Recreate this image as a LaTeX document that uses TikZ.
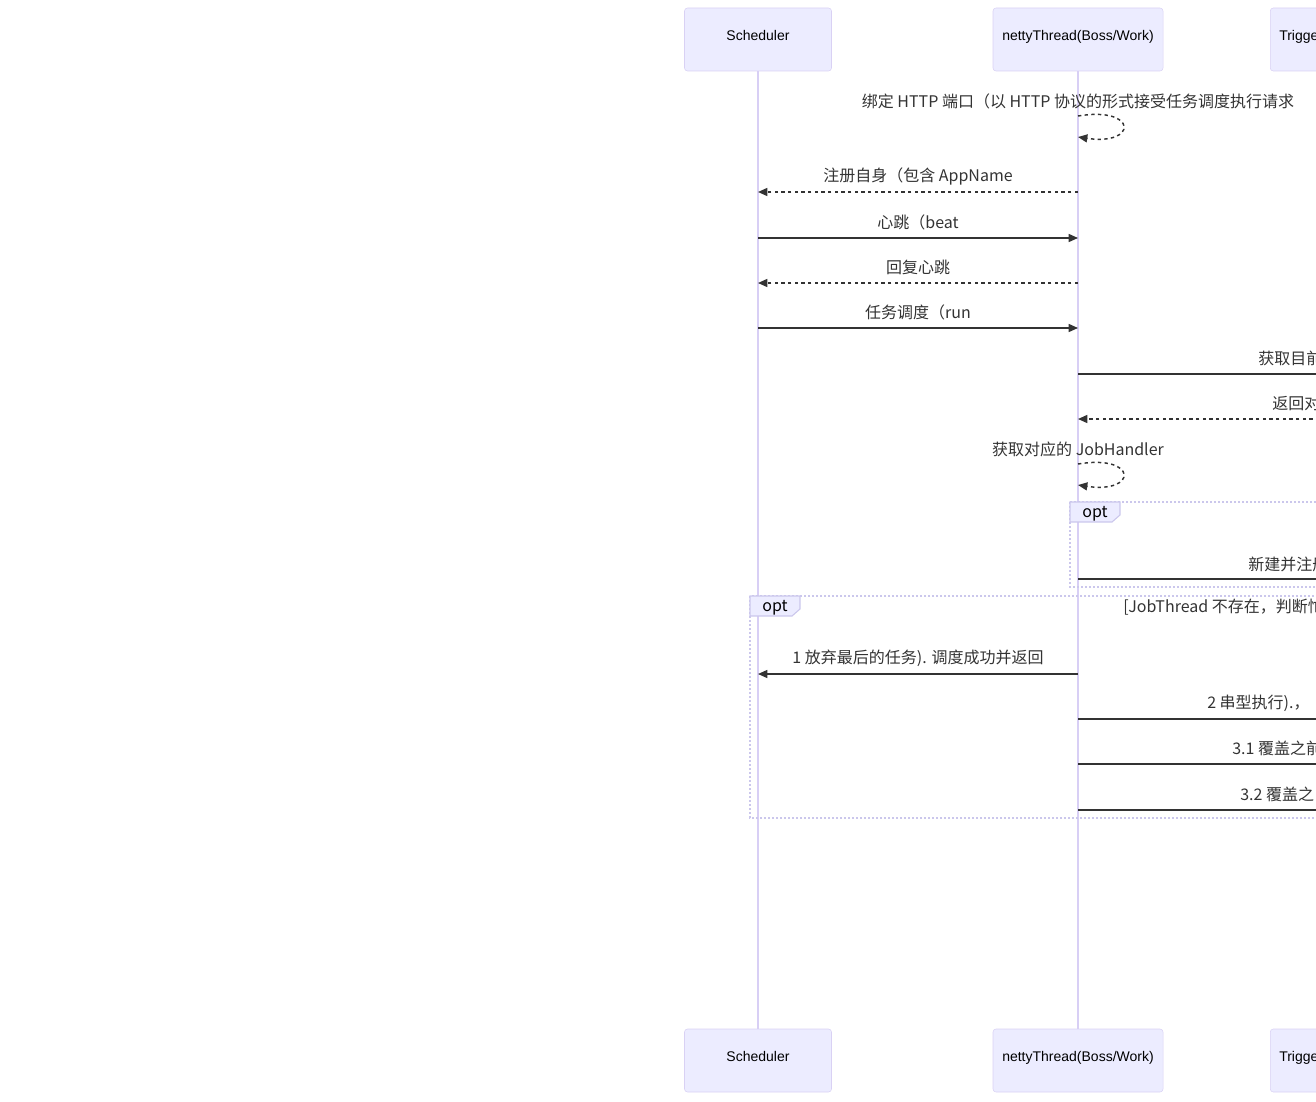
\documentclass[tikz,border=0pt]{standalone}
\usepackage{fontspec}
\setmainfont{Liberation Sans}
\newfontfamily\cjk{Noto Sans CJK SC}
\usetikzlibrary{arrows.meta}
\usetikzlibrary{calc}

\definecolor{actorfill}{HTML}{ECECFF}
\definecolor{actorline}{HTML}{D9D1F4}
\definecolor{lifeline}{HTML}{D8CFF5}
\definecolor{msgline}{HTML}{333333}
\definecolor{optline}{HTML}{CBC7EC}

\tikzset{
  actor/.style={draw=actorline, fill=actorfill, rounded corners=2.25pt, minimum height=47.25pt, inner sep=0pt, text depth=6pt, font=\fontsize{10.5}{12}\selectfont},
  life/.style={draw=lifeline, line width=1.5pt},
  msg/.style={draw=msgline, line width=1.1pt, -{Triangle[length=7pt,width=6pt]}},
  reply/.style={msg, dash pattern=on 2.5pt off 2.5pt},
  msgtext/.style={text=msgline, font=\cjk\fontsize{12}{14}\selectfont, inner sep=0pt},
  optbox/.style={draw=optline, line width=0.8pt, dash pattern=on 1.5pt off 1.5pt},
  opttab/.style={draw=optline, fill=actorfill, line width=0.8pt}
}

\begin{document}
\begin{tikzpicture}[x=0.75pt, y=-0.75pt]
      \useasboundingbox (0,0) rectangle (1316,1102);
      \clip (0,0) rectangle (1316,1102);

      % actors
      \node[actor, minimum width=110.25pt] (sched) at (758, 39.5) {Scheduler};
      \node[actor, minimum width=127.5pt] (netty) at (1078, 39.5) {nettyThread(Boss/Work)};
      \node[actor, anchor=west, text width=120pt, align=left, inner xsep=6.75pt] (trig) at (1270, 39.5) {Trigger};
      \node[actor, minimum width=110.25pt] (schedB) at (758, 1060.5) {Scheduler};
      \node[actor, minimum width=127.5pt] (nettyB) at (1078, 1060.5) {nettyThread(Boss/Work)};
      \node[actor, anchor=west, text width=120pt, align=left, inner xsep=6.75pt] (trigB) at (1270, 1060.5) {Trigger};

      \draw[life] (sched) -- (schedB);
      \draw[life] (netty) -- (nettyB);
      \draw[life] (trig) -- (trigB);

      % opt frames
      \draw[optbox] (750, 596) rectangle (1400, 818);
      \draw[opttab] (750, 596) -- (800, 596) -- (800, 609) -- (792, 616) -- (750, 616) -- cycle;
      \node[msgtext, text=black] (opt2) at (775, 608) {opt};
      \node[msgtext, anchor=west] (cond2) at (1123, 607.5) {[JobThread 不存在，判断忙};

      \draw[optbox] (1070, 502) rectangle (1400, 587);
      \draw[opttab] (1070, 502) -- (1120, 502) -- (1120, 515) -- (1112, 522) -- (1070, 522) -- cycle;
      \node[msgtext, text=black] (opt1) at (1095, 514) {opt};

      % message end points
      \coordinate (n1) at (netty |- 0, 116);
      \coordinate (n1e) at (netty |- 0, 137);
      \coordinate (s2) at (sched |- 0, 192);
      \coordinate (n2) at (netty |- 0, 192);
      \coordinate (s3) at (sched |- 0, 238);
      \coordinate (n3) at (netty |- 0, 238);
      \coordinate (s4) at (sched |- 0, 283);
      \coordinate (n4) at (netty |- 0, 283);
      \coordinate (s5) at (sched |- 0, 328);
      \coordinate (n5) at (netty |- 0, 328);
      \coordinate (n6) at (netty |- 0, 374);
      \coordinate (t6) at (trig |- 0, 374);
      \coordinate (n7) at (netty |- 0, 419);
      \coordinate (t7) at (trig |- 0, 419);
      \coordinate (n8) at (netty |- 0, 464);
      \coordinate (n8e) at (netty |- 0, 485);
      \coordinate (n9) at (netty |- 0, 579);
      \coordinate (t9) at (trig |- 0, 579);
      \coordinate (s10) at (sched |- 0, 674);
      \coordinate (n10) at (netty |- 0, 674);
      \coordinate (n11) at (netty |- 0, 719);
      \coordinate (t11) at (trig |- 0, 719);
      \coordinate (n12) at (netty |- 0, 764);
      \coordinate (t12) at (trig |- 0, 764);
      \coordinate (n13) at (netty |- 0, 810);
      \coordinate (t13) at (trig |- 0, 810);

      % messages
      \node[msgtext] (m1) at (1078, 101) {绑定 HTTP 端口（以 HTTP 协议的形式接受任务调度执行请求};
      \draw[reply] (n1) .. controls ($(n1)+(60,-10)$) and ($(n1)+(60,30)$) .. (n1e);

      \node[msgtext] (m2) at (918, 176.5) {注册自身（包含 AppName};
      \draw[reply] (n2) -- (s2);

      \node[msgtext] (m3) at (918, 222.5) {心跳（beat};
      \draw[msg] (s3) -- (n3);

      \node[msgtext] (m4) at (918, 267.5) {回复心跳};
      \draw[reply] (n4) -- (s4);

      \node[msgtext] (m5) at (918, 312.5) {任务调度（run};
      \draw[msg] (s5) -- (n5);

      \node[msgtext, anchor=west] (m6) at (1258, 358.5) {获取目前};
      \draw[msg] (n6) -- (t6);

      \node[msgtext, anchor=west] (m7) at (1272, 403.5) {返回对};
      \draw[reply] (t7) -- (n7);

      \node[msgtext] (m8) at (1078, 449.5) {获取对应的 JobHandler};
      \draw[reply] (n8) .. controls ($(n8)+(60,-10)$) and ($(n8)+(60,30)$) .. (n8e);

      \node[msgtext, anchor=west] (m9) at (1248, 564.5) {新建并注册};
      \draw[msg] (n9) -- (t9);

      \node[msgtext] (m10) at (918, 658.5) {1 放弃最后的任务). 调度成功并返回};
      \draw[msg] (n10) -- (s10);

      \node[msgtext, anchor=west] (m11) at (1207, 703.5) {2 串型执行).，};
      \draw[msg] (n11) -- (t11);

      \node[msgtext, anchor=west] (m12) at (1232, 748.5) {3.1 覆盖之前};
      \draw[msg] (n12) -- (t12);

      \node[msgtext, anchor=west] (m13) at (1240, 794.5) {3.2 覆盖之};
      \draw[msg] (n13) -- (t13);
    \end{tikzpicture}
\end{document}
